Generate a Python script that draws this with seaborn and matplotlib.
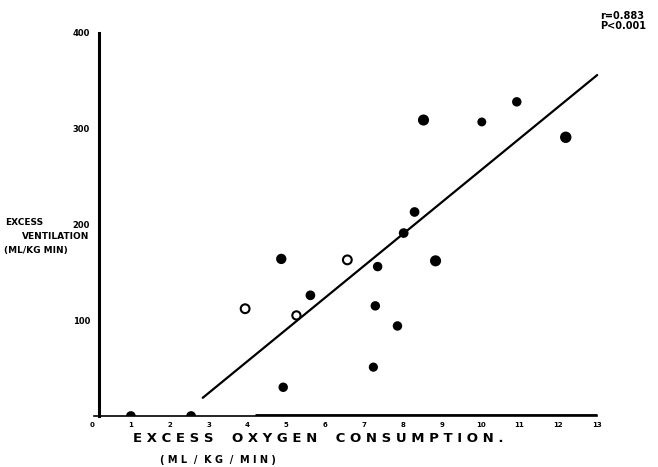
import numpy as np
import pandas as pd
import matplotlib
matplotlib.use("Agg")
import matplotlib.pyplot as plt
import seaborn as sns

# -----------------------------------
# Data
# -----------------------------------
oxygen = [1.0, 2.55, 3.94, 4.87, 4.92, 5.26, 5.62, 6.57, 7.35, 7.29, 7.24,
          7.86, 8.02, 8.30, 8.53, 8.84, 10.03, 10.93, 12.19]
ventilation = [0, 0, 112, 164, 30, 105, 126, 163, 156, 115, 51,
               94, 191, 213, 309, 162, 307, 328, 291]
marker_kind = ["filled", "filled", "open", "filled", "filled", "open", "filled",
               "open", "filled", "filled", "filled", "filled", "filled",
               "filled", "filled", "filled", "filled", "filled", "filled"]
marker_size = [30, 30, 40, 35, 28, 35, 30, 40, 28, 28, 26, 28, 30, 30, 42, 42,
               24, 28, 45]

fit_x = [2.85, 13.0]
fit_y = [19, 356]

x_ticks = list(range(0, 14))
y_ticks = [100, 200, 300, 400]

df = pd.DataFrame({"x": oxygen, "y": ventilation, "kind": marker_kind,
                   "size": marker_size})

# -----------------------------------
# Figure
# -----------------------------------
sns.set_style("white")
plt.rcParams["font.family"] = ["DejaVu Sans"]
plt.rcParams["text.color"] = "black"
plt.rcParams["xtick.color"] = "black"
plt.rcParams["ytick.color"] = "black"
plt.rcParams["axes.edgecolor"] = "black"

fig = plt.figure(figsize=(6.58, 4.67), dpi=100)
ax = fig.add_axes([92 / 658, 51 / 467, 513 / 658, 386 / 467])

sns.lineplot(x=fit_x, y=fit_y, color="black", linewidth=1.6, ax=ax)
sns.scatterplot(data=df, x="x", y="y", hue="kind", size="size",
                sizes=(24, 45), palette={"filled": "black", "open": "white"},
                edgecolor="black", linewidth=1.5, legend=False, ax=ax, zorder=3)

ax.set_xlim(0, 13.2)
ax.set_ylim(0, 403)

for s in ["top", "right"]:
    ax.spines[s].set_visible(False)
ax.spines["left"].set_position(("data", 0.18))
ax.spines["left"].set_bounds(0, 400)
ax.spines["left"].set_linewidth(2.2)
ax.spines["bottom"].set_bounds(0.05, 13)
ax.spines["bottom"].set_linewidth(1.2)
ax.spines["bottom"].set_linestyle((0, (4, 1)))
ax.hlines(0, 4.2, 13, color="black", linewidth=3.5, zorder=2)

ax.set_xticks(x_ticks)
ax.set_xticklabels([str(t) for t in x_ticks], fontsize=5, fontweight="bold")
ax.set_yticks(y_ticks)
ax.set_yticklabels([str(t) for t in y_ticks], fontsize=6, fontweight="bold")
ax.tick_params(axis="x", length=2, width=1, pad=2, direction="out")
ax.tick_params(axis="y", length=3, width=1, pad=5, direction="inout")
ax.set_xlabel("")
ax.set_ylabel("")

# axis titles, hand lettered in the original
fig.text(133 / 658, 1 - 438 / 467, "E X C E S S    O X Y G E N    C O N S U M P T I O N .",
         fontsize=9.5, fontweight="bold", va="center", ha="left")
fig.text(160 / 658, 1 - 460 / 467, "( M L  /  K G  /  M I N )",
         fontsize=7, fontweight="bold", va="center", ha="left")

fig.text(5 / 658, 1 - 222 / 467, "EXCESS", fontsize=6.5, fontweight="bold",
         va="center", ha="left")
fig.text(22 / 658, 1 - 236 / 467, "VENTILATION", fontsize=6.5, fontweight="bold",
         va="center", ha="left")
fig.text(4 / 658, 1 - 250 / 467, "(ML/KG MIN)", fontsize=6.5, fontweight="bold",
         va="center", ha="left")

fig.text(600 / 658, 1 - 16 / 467, "r=0.883", fontsize=7, fontweight="bold",
         va="center", ha="left")
fig.text(600 / 658, 1 - 26 / 467, "P<0.001", fontsize=7, fontweight="bold",
         va="center", ha="left")

fig.savefig("out.png", dpi=100)
